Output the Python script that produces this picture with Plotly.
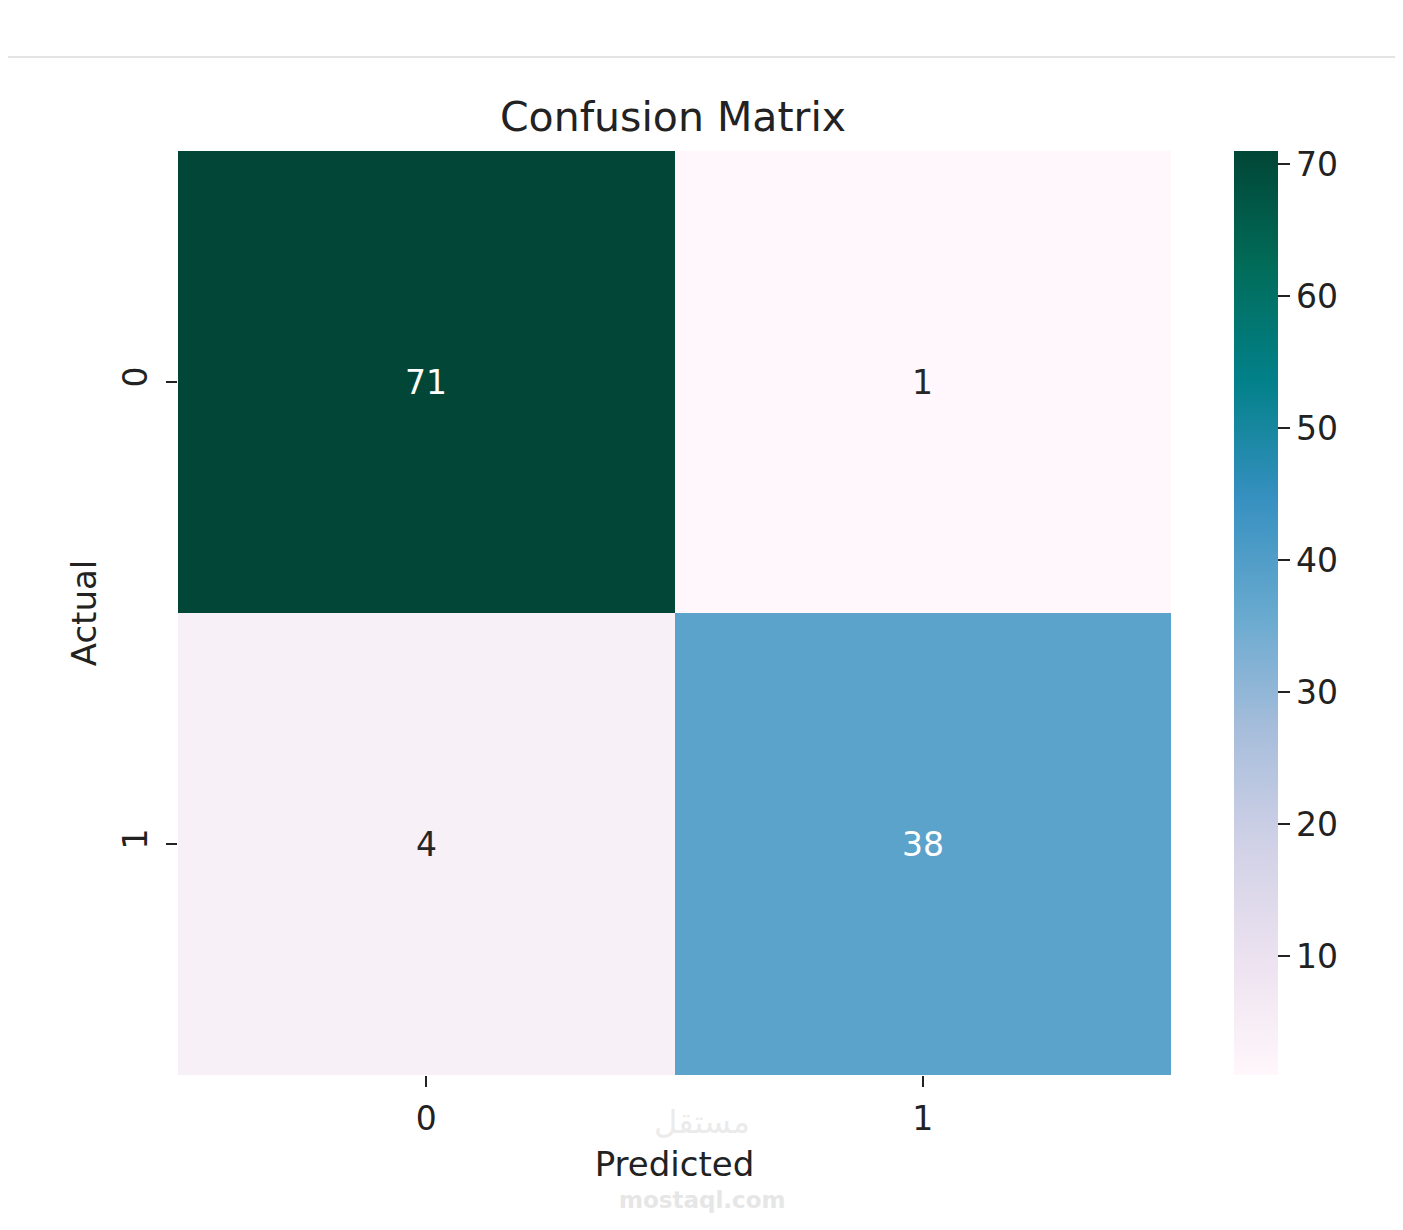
import plotly.graph_objects as go

# confusion matrix values
labels = [0, 1]
counts = [[71, 1],
          [4, 38]]
cbar_ticks = [10, 20, 30, 40, 50, 60, 70]

zmin = min(min(r) for r in counts)
zmax = max(max(r) for r in counts)

heat = go.Heatmap(
    z=counts, x=labels, y=labels,
    colorscale="PuBuGn", zmin=zmin, zmax=zmax,
    xgap=0, ygap=0,
    hoverinfo="skip",
    colorbar=dict(
        x=1.0634, xanchor="left", xpad=0,
        y=0.5, yanchor="middle", len=1.0, lenmode="fraction", ypad=0,
        thickness=44, outlinewidth=0,
        tickmode="array", tickvals=cbar_ticks, tickprefix="\u00a0",
        ticks="outside", ticklen=12, tickwidth=2, tickcolor="#222",
        tickfont=dict(family="DejaVu Sans", size=33, color="#222"),
    ),
)

fig = go.Figure(data=[heat])

# cell annotations, white on dark cells
annots = []
for i, row in enumerate(counts):
    for j, v in enumerate(row):
        frac = (v - zmin) / (zmax - zmin)
        annots.append(dict(
            x=labels[j], y=labels[i], text=str(v), showarrow=False,
            font=dict(family="DejaVu Sans", size=33,
                      color="white" if frac > 0.4 else "#262626"),
        ))

# faint site watermark
annots.append(dict(xref="paper", yref="paper", x=0.528, y=-0.051,
                   text="مستقل", showarrow=False, yanchor="middle",
                   font=dict(family="DejaVu Sans", size=32, color="#ebebeb")))
annots.append(dict(xref="paper", yref="paper", x=0.528, y=-0.135,
                   text="<b>mostaql.com</b>", showarrow=False, yanchor="middle",
                   font=dict(family="DejaVu Sans", size=23, color="#e6e6e6")))

fig.update_layout(
    width=1403, height=1230,
    margin=dict(l=170, r=240, t=143, b=163),
    paper_bgcolor="white", plot_bgcolor="white",
    title=dict(text="Confusion Matrix", x=0.474, xref="container", xanchor="center",
               y=0.9114, yref="container", yanchor="middle",
               font=dict(family="DejaVu Sans", size=41, color="#222")),
    font=dict(family="DejaVu Sans", color="#222"),
    annotations=annots,
    shapes=[dict(type="line", xref="paper", yref="paper",
                 x0=-0.2, x1=1.3, y0=1.1017, y1=1.1017,
                 line=dict(color="#e4e4e4", width=2))],
    xaxis=dict(
        tickmode="array", tickvals=labels, ticktext=[str(v) for v in labels],
        ticks="outside", ticklen=11, tickwidth=2, tickcolor="#222",
        ticklabelstandoff=3,
        tickfont=dict(size=33), showgrid=False, zeroline=False, showline=False,
        title=dict(text="Predicted", font=dict(size=34), standoff=15),
        range=[-0.5, 1.5],
    ),
    yaxis=dict(
        tickmode="array", tickvals=labels, ticktext=[str(v) for v in labels],
        ticks="outside", ticklen=11, tickwidth=2, tickcolor="#222",
        ticklabelstandoff=6,
        tickfont=dict(size=33), tickangle=-90,
        showgrid=False, zeroline=False, showline=False,
        title=dict(text="Actual", font=dict(size=34), standoff=8),
        range=[1.5, -0.5],
    ),
)

fig.write_html("out.html")
